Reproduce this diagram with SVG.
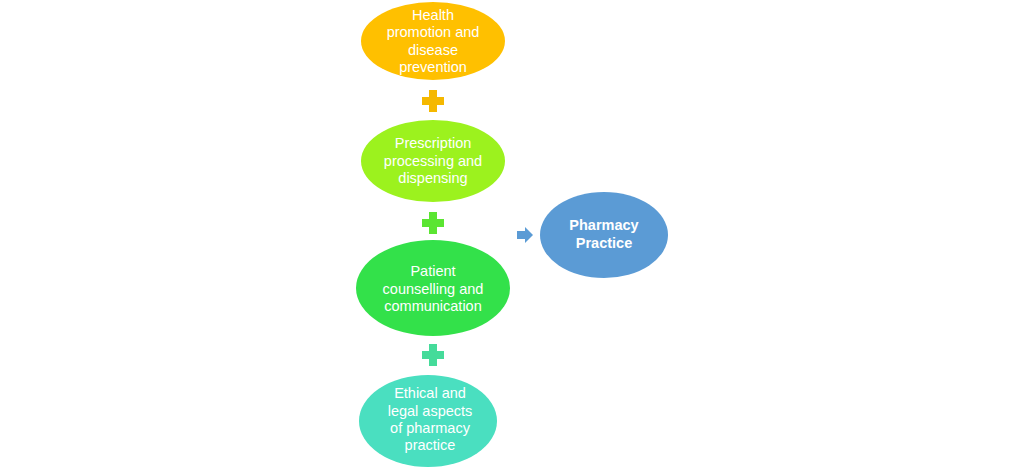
<svg xmlns="http://www.w3.org/2000/svg" width="1024" height="467" viewBox="0 0 1024 467">
<style>
text{font-family:"Liberation Sans",Arial,sans-serif;font-size:14.5px;fill:#ffffff;text-anchor:middle}
.b{font-weight:bold}
</style>
<defs>
<path id="plus" d="M-4,-11H4V-4H11V4H4V11H-4V4H-11V-4H-4Z"/>
</defs>
<rect width="1024" height="467" fill="#ffffff"/>
<g id="connectors">
<use href="#plus" x="433" y="101" fill="#F5B800"/>
<use href="#plus" x="433" y="223" fill="#5BE532"/>
<use href="#plus" x="433" y="355" fill="#45DB9A"/>
<path d="M517,231H525V227L533,235L525,243V239H517Z" fill="#5B9BD5"/>
</g>
<g id="n1">
<ellipse cx="433" cy="41" rx="72" ry="39" fill="#FFC000"/>
<text x="433" y="20">Health</text>
<text x="433" y="37">promotion and</text>
<text x="433" y="55">disease</text>
<text x="433" y="72">prevention</text>
</g>
<g id="n2">
<ellipse cx="433" cy="161" rx="72" ry="41" fill="#9CF21E"/>
<text x="433" y="148">Prescription</text>
<text x="433" y="166">processing and</text>
<text x="433" y="183">dispensing</text>
</g>
<g id="n3">
<ellipse cx="433" cy="288" rx="77" ry="48" fill="#33E14A"/>
<text x="433" y="276">Patient</text>
<text x="433" y="294">counselling and</text>
<text x="433" y="311">communication</text>
</g>
<g id="n4">
<ellipse cx="428" cy="421" rx="69" ry="46" fill="#4ADFC0"/>
<text x="430" y="398">Ethical and</text>
<text x="430" y="416">legal aspects</text>
<text x="430" y="433">of pharmacy</text>
<text x="430" y="450">practice</text>
</g>
<g id="n5">
<ellipse cx="604" cy="235" rx="64" ry="43" fill="#5B9BD5"/>
<text class="b" x="604" y="230">Pharmacy</text>
<text class="b" x="604" y="248">Practice</text>
</g>
</svg>
